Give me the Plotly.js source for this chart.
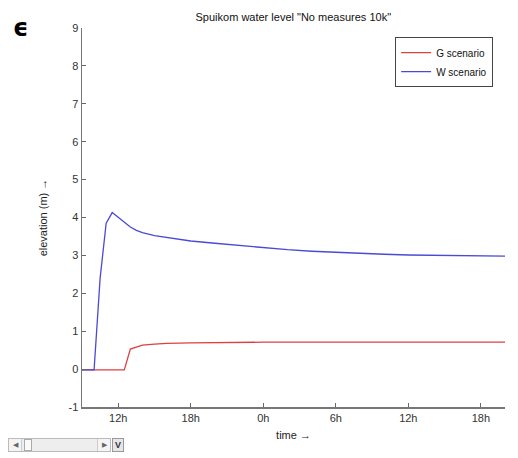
<!DOCTYPE html>
<html>
<head>
<meta charset="utf-8">
<script src="https://cdn.plot.ly/plotly-3.0.1.min.js"></script>
<style>
html,body{margin:0;padding:0;background:#fff;}
#chart{width:518px;height:458px;position:relative;}
.sb{position:absolute;box-sizing:border-box;}
</style>
</head>
<body>
<div id="chart"></div>
<div class="sb" style="left:8px;top:438px;width:103px;height:14px;border:1px solid #bbb;background:#eee;"></div>
<div class="sb" style="left:9px;top:439px;width:13px;height:12px;border-right:1px solid #ccc;background:#f4f4f4;font:7px sans-serif;color:#666;text-align:center;line-height:12px;">&#9664;</div>
<div class="sb" style="left:24px;top:439px;width:8px;height:12px;border:1px solid #aaa;background:#fafafa;"></div>
<div class="sb" style="left:97px;top:439px;width:13px;height:12px;border-left:1px solid #ccc;background:#f4f4f4;font:7px sans-serif;color:#666;text-align:center;line-height:12px;">&#9654;</div>
<div class="sb" style="left:112px;top:438px;width:12px;height:14px;border:1px solid #999;background:#e6e6e6;font:bold 9px 'Liberation Sans',Arial,sans-serif;color:#334;text-align:center;line-height:12px;">V</div>
<script>
// time in hours from day-0 midnight
var timeW = [9, 10, 10.5, 11, 11.5, 12, 12.5, 13, 13.5, 14, 15, 16, 17, 18, 20, 22, 24, 26, 28, 30, 32, 34, 36, 38, 40, 42, 44];
var levelW = [-0.02, -0.02, 2.4, 3.85, 4.13, 4.0, 3.86, 3.75, 3.66, 3.60, 3.52, 3.47, 3.42, 3.38, 3.32, 3.26, 3.20, 3.15, 3.11, 3.08, 3.05, 3.03, 3.01, 3.00, 2.99, 2.98, 2.98];
var timeG = [9, 12.5, 13, 13.5, 14, 15, 16, 18, 20, 24, 28, 32, 36, 40, 44];
var levelG = [-0.02, -0.02, 0.53, 0.59, 0.63, 0.66, 0.68, 0.69, 0.70, 0.71, 0.71, 0.71, 0.71, 0.71, 0.71];
var tickVals = [12, 18, 24, 30, 36, 42];
var tickText = ['12h', '18h', '0h', '6h', '12h', '18h'];
var yTicks = [-1, 0, 1, 2, 3, 4, 5, 6, 7, 8, 9];
var yTickText = ['-1', '0', '1', '2', '3', '4', '5', '6', '7', '8', '9'];

var font = "'Liberation Sans', Arial, Helvetica, sans-serif";
var traces = [
  {x: timeG, y: levelG, name: 'G scenario', mode: 'lines', line: {color: '#dc4040', width: 1.3}},
  {x: timeW, y: levelW, name: 'W scenario', mode: 'lines', line: {color: '#4a4ad6', width: 1.3}}
];
var layout = {
  width: 518, height: 458,
  margin: {l: 82, r: 13, t: 28, b: 51},
  paper_bgcolor: '#fff', plot_bgcolor: '#fff',
  font: {family: font, size: 11, color: '#333'},
  title: {text: 'Spuikom water level "No measures 10k"', x: 0.5662, xanchor: 'center', y: 0.962, yanchor: 'middle', font: {size: 11, color: '#111', family: font}},
  showlegend: true,
  legend: {x: 0.972, xanchor: 'right', y: 0.976, yanchor: 'top', bgcolor: '#fff', bordercolor: '#444', borderwidth: 1, font: {size: 10, color: '#111'}, tracegroupgap: 0, itemwidth: 30},
  xaxis: {range: [9, 44], tickvals: tickVals, ticktext: tickText, ticks: 'inside', ticklen: 4, tickcolor: '#666', showline: true, linecolor: '#777', linewidth: 1.5, showgrid: false, zeroline: false, tickfont: {size: 11, color: '#333'}, title: {text: 'time →', font: {size: 11, color: '#222'}, standoff: 8}},
  yaxis: {range: [-1, 9], tickvals: yTicks, ticktext: yTickText, ticks: 'inside', ticklen: 4, tickcolor: '#666', showline: true, linecolor: '#777', linewidth: 1.5, showgrid: false, zeroline: false, tickfont: {size: 11, color: '#333'}, title: {text: 'elevation (m) →', font: {size: 11, color: '#222'}, standoff: 18}},
  annotations: [{text: '<b>ϵ</b>', xref: 'paper', yref: 'paper', x: -0.145, y: 1.0, xanchor: 'center', yanchor: 'middle', showarrow: false, font: {size: 24, color: '#000', family: "'DejaVu Sans', sans-serif"}}]
};
Plotly.newPlot('chart', traces, layout, {displayModeBar: false, staticPlot: true});
</script>
</body>
</html>
